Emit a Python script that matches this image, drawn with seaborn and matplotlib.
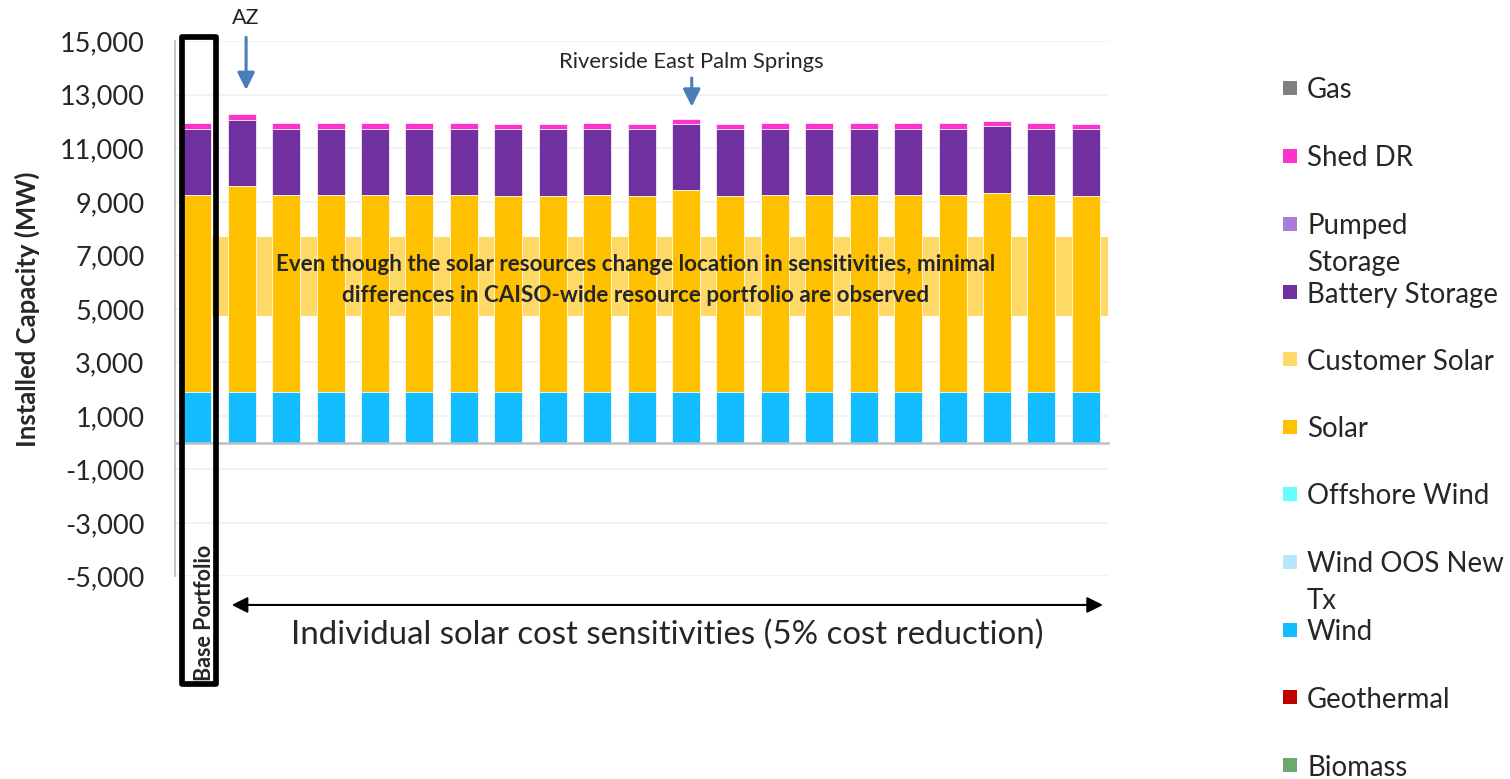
import numpy as np
import matplotlib
matplotlib.use("Agg")
import matplotlib.pyplot as plt
from matplotlib.patches import Rectangle
import seaborn as sns

# ---- data (MW) ----
cases = ["Base Portfolio"] + [f"Sensitivity {i}" for i in range(1, 21)]

biomass = [0] * 21
geothermal = [0] * 21
wind = [1900, 1900, 1900, 1900, 1900, 1900, 1900, 1900, 1900, 1900, 1900,
        1900, 1900, 1900, 1900, 1900, 1900, 1900, 1900, 1900, 1900]
wind_oos = [0] * 21
offshore_wind = [0] * 21
solar = [7350, 7690, 7350, 7350, 7350, 7350, 7350, 7320, 7320, 7350, 7320,
         7540, 7320, 7350, 7350, 7350, 7350, 7350, 7440, 7350, 7320]
customer_solar = [0] * 21
battery = [2470, 2480, 2470, 2470, 2470, 2470, 2470, 2500, 2500, 2470, 2500,
           2460, 2500, 2470, 2470, 2470, 2470, 2470, 2490, 2490, 2500]
pumped_storage = [0] * 21
shed_dr = [220, 210, 220, 220, 220, 220, 220, 190, 190, 220, 190,
           200, 190, 220, 220, 220, 220, 220, 200, 200, 190]
gas = [0] * 21

# stacking order, bottom to top
layers = [
    ("Biomass", biomass, "#6AAA6A"),
    ("Geothermal", geothermal, "#C00000"),
    ("Wind", wind, "#12BCFF"),
    ("Wind OOS New\nTx", wind_oos, "#B8E6FD"),
    ("Offshore Wind", offshore_wind, "#66FFFF"),
    ("Solar", solar, "#FFC000"),
    ("Customer Solar", customer_solar, "#FFD966"),
    ("Battery Storage", battery, "#7030A0"),
    ("Pumped\nStorage", pumped_storage, "#AD7BD9"),
    ("Shed DR", shed_dr, "#FF33CC"),
    ("Gas", gas, "#808080"),
]

sns.set_style("white")
plt.rcParams["font.family"] = ["Lato", "DejaVu Sans"]

fig = plt.figure(figsize=(15.1, 7.79), dpi=100)
ax = fig.add_axes([0.1159, 0.2600, 0.6179, 0.6870])

# highlight band behind the bars
ax.add_patch(Rectangle((-0.4, 4735), 20.9, 2952, facecolor="#FFD966",
                       edgecolor="none", zorder=1.5))

# stacked bars: draw cumulative totals from the top layer down
cum = np.cumsum([np.array(v, dtype=float) for _, v, _ in layers], axis=0)
for k in range(len(layers) - 1, -1, -1):
    name, _, col = layers[k]
    sns.barplot(x=cases, y=cum[k], order=cases, color=col, saturation=1,
                width=0.63, edgecolor=(1, 1, 1, 0.75), linewidth=0.7,
                errorbar=None, ax=ax, zorder=2)

ax.set_xlim(-0.5, 20.5)
ax.set_ylim(-5000, 15000)
yt = list(range(-5000, 15001, 2000))
ax.set_yticks(yt)
ax.set_yticklabels([f"{v:,}" for v in yt], fontsize=19.5)
ax.set_xticks(np.arange(0.5, 20.5, 1.0))
ax.set_xticklabels([])
ax.set_xlabel("")
ax.set_ylabel("Installed Capacity (MW)", fontsize=18.5, fontweight="bold",
              labelpad=14)

ax.xaxis.grid(False)
ax.yaxis.grid(True, color="#F0F0F0", linewidth=1.2)
ax.set_axisbelow(True)
for s in ["top", "right"]:
    ax.spines[s].set_visible(False)
ax.spines["left"].set_color("#BFBFBF")
ax.spines["left"].set_linewidth(1.3)
ax.spines["bottom"].set_position(("data", 0))
ax.spines["bottom"].set_color("#BFBFBF")
ax.spines["bottom"].set_linewidth(1.8)
ax.spines["bottom"].set_zorder(3)
ax.tick_params(axis="y", direction="out", length=7, width=1.2,
               color="#BFBFBF", pad=15)
ax.tick_params(axis="x", direction="out", length=8, width=1.3,
               color="#A6A6A6")

# base portfolio frame
ax.add_patch(Rectangle((-0.338, -9036), 0.768, 24189, fill=False,
                       edgecolor="black", linewidth=4.1, joinstyle="round",
                       clip_on=False, zorder=5))
ax.text(0.153, -6364, "Base Portfolio", rotation=90, ha="center",
        va="center", fontsize=15.5, fontweight="bold", clip_on=False)

# callouts
arrow_blue = "#4A7EBB"
ax.annotate("", xy=(1.1, 13180), xytext=(1.1, 15150),
            arrowprops=dict(arrowstyle="-|>", color=arrow_blue, lw=2.2,
                            mutation_scale=26, shrinkA=0, shrinkB=0),
            annotation_clip=False)
ax.text(1.1, 15860, "AZ", ha="center", va="center", fontsize=15.5,
        clip_on=False)
ax.annotate("", xy=(11.13, 12556), xytext=(11.13, 13628),
            arrowprops=dict(arrowstyle="-|>", color=arrow_blue, lw=2.2,
                            mutation_scale=26, shrinkA=0, shrinkB=0),
            annotation_clip=False)
ax.text(11.13, 14226, "Riverside East Palm Springs", ha="center",
        va="center", fontsize=15.8)

ax.text(9.87, 6080,
        "Even though the solar resources change location in sensitivities, minimal\n"
        "differences in CAISO-wide resource portfolio are observed",
        ha="center", va="center", fontsize=16.2, fontweight="bold",
        linespacing=1.62, zorder=6)

ax.annotate("", xy=(0.776, -6065), xytext=(20.386, -6065),
            arrowprops=dict(arrowstyle="<|-|>", color="black", lw=1.5,
                            mutation_scale=24, shrinkA=0, shrinkB=0),
            annotation_clip=False)
ax.text(10.585, -7186, "Individual solar cost sensitivities (5% cost reduction)",
        ha="center", va="center", fontsize=23.8, clip_on=False)

# legend, top entry first
W, H = 1510, 779
ys = [88, 156, 224, 292, 359, 427, 494, 562, 630, 697, 765]
for (name, _, col), yp in zip(layers[::-1], ys):
    fig.patches.append(Rectangle((1283 / W, 1 - (yp + 7) / H), 14 / W, 14 / H,
                                 transform=fig.transFigure, facecolor=col,
                                 edgecolor="none"))
    extra = name.count("\n") * 12.5
    fig.text(1307 / W, 1 - (yp + extra) / H, name, ha="left",
             va="center_baseline", fontsize=19.9, linespacing=1.52)

fig.savefig("out.png", dpi=100)
